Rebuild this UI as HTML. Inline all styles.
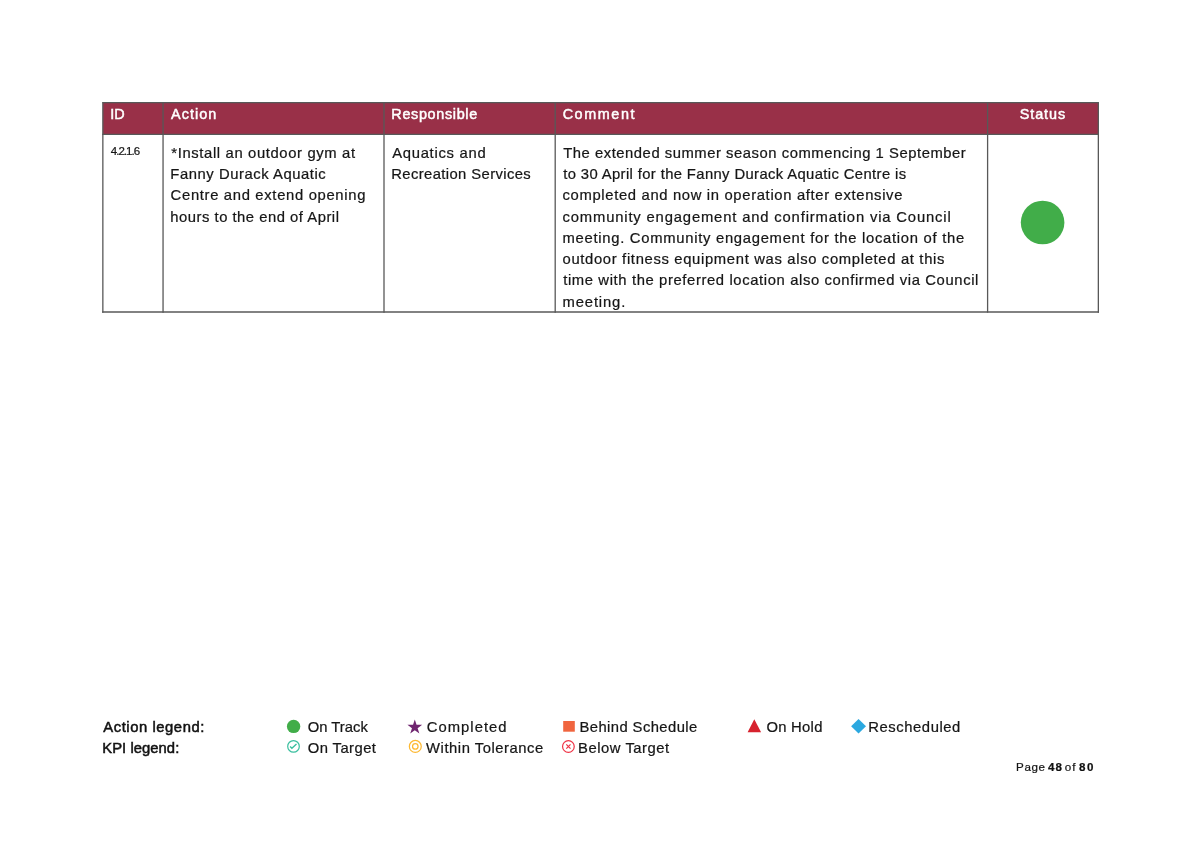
<!DOCTYPE html>
<html lang="en"><head><meta charset="utf-8"><title>Action Report - Page 48</title>
<style>
html,body{margin:0;padding:0;background:#fff;}
body{width:1194px;height:844px;position:relative;overflow:hidden;font-family:"Liberation Sans",sans-serif;}
.t{position:absolute;white-space:pre;display:block;}
svg{position:absolute;left:0;top:0;}
#txt{position:absolute;left:0;top:0;width:1194px;height:844px;will-change:transform;}
</style></head><body>
<svg width="1194" height="844" viewBox="0 0 1194 844">
<!-- table header fill -->
<rect x="102.85" y="102.85" width="995.45" height="31.6" fill="#993048"/>
<!-- grid lines -->
<g stroke="#585858" stroke-width="1.3" fill="none" stroke-linecap="square">
<line x1="102.85" y1="102.65" x2="1098.3" y2="102.65" stroke-width="1.15"/>
<line x1="102.85" y1="312" x2="1098.3" y2="312" stroke-width="1.4"/>
<line x1="102.85" y1="102.85" x2="102.85" y2="312"/>
<line x1="1098.35" y1="102.85" x2="1098.35" y2="312"/>
<line x1="102.85" y1="134.45" x2="1098.3" y2="134.45"/>
<line x1="163.05" y1="102.85" x2="163.05" y2="312"/>
<line x1="384" y1="102.85" x2="384" y2="312"/>
<line x1="555.2" y1="102.85" x2="555.2" y2="312"/>
<line x1="987.6" y1="102.85" x2="987.6" y2="312"/>
</g>
<!-- status circle -->
<circle cx="1042.6" cy="222.5" r="21.8" fill="#41ad49"/>
<!-- legend icons -->
<circle cx="293.6" cy="726.4" r="6.7" fill="#41ad49"/>
<polygon fill="#6f256f" points="414.80,719.50 416.54,724.85 422.17,724.86 417.62,728.16 419.36,733.52 414.80,730.21 410.24,733.52 411.98,728.16 407.43,724.86 413.06,724.85"/>
<rect x="563.2" y="721" width="11.6" height="10.7" fill="#f0653f"/>
<polygon fill="#d7222e" points="754.3,719.3 761.1,732.2 747.6,732.2"/>
<polygon fill="#2ba8e0" points="858.55,719 866,726.25 858.55,733.5 851.1,726.25"/>
<!-- KPI icons -->
<g fill="none" stroke="#3bbf9f" stroke-width="1.2">
<circle cx="293.5" cy="746.4" r="5.8"/>
<polyline stroke-width="1.4" points="290.1,746.4 291.9,748.2 296.5,744"/>
</g>
<g fill="none" stroke="#fdb933" stroke-width="1.25">
<circle cx="415.3" cy="746.4" r="5.95"/>
<circle cx="415.3" cy="746.4" r="2.75"/>
</g>
<g fill="none" stroke="#ef3346" stroke-width="1.2">
<circle cx="568.4" cy="746.45" r="5.85"/>
<path d="M566.3,744.35 L570.5,748.55 M570.5,744.35 L566.3,748.55"/>
</g>
</svg>

<div id="txt">
<span class="t" style="left:110.14px;top:106.00px;font-size:14.4px;line-height:17px;font-weight:400;color:#fff;letter-spacing:0.222px;-webkit-text-stroke:0.48px #fff">ID</span>
<span class="t" style="left:171.04px;top:106.00px;font-size:14.4px;line-height:17px;font-weight:400;color:#fff;letter-spacing:1.065px;-webkit-text-stroke:0.48px #fff">Action</span>
<span class="t" style="left:391.34px;top:106.00px;font-size:14.4px;line-height:17px;font-weight:400;color:#fff;letter-spacing:0.666px;-webkit-text-stroke:0.48px #fff">Responsible</span>
<span class="t" style="left:562.64px;top:106.00px;font-size:14.4px;line-height:17px;font-weight:400;color:#fff;letter-spacing:1.590px;-webkit-text-stroke:0.48px #fff">Comment</span>
<span class="t" style="left:1019.74px;top:106.00px;font-size:14.4px;line-height:17px;font-weight:400;color:#fff;letter-spacing:0.921px;-webkit-text-stroke:0.48px #fff">Status</span>
<span class="t" style="left:110.81px;top:144.00px;font-size:11.5px;line-height:14px;font-weight:400;color:#161616;letter-spacing:-0.982px;-webkit-text-stroke:0.22px #161616">4.2.1.6</span>
<span class="t" style="left:171.31px;top:144.00px;font-size:14.8px;line-height:18px;font-weight:400;color:#161616;letter-spacing:0.636px;-webkit-text-stroke:0.22px #161616">*Install an outdoor gym at</span>
<span class="t" style="left:170.31px;top:165.00px;font-size:14.8px;line-height:18px;font-weight:400;color:#161616;letter-spacing:0.562px;-webkit-text-stroke:0.22px #161616">Fanny Durack Aquatic</span>
<span class="t" style="left:170.61px;top:186.00px;font-size:14.8px;line-height:18px;font-weight:400;color:#161616;letter-spacing:0.676px;-webkit-text-stroke:0.22px #161616">Centre and extend opening</span>
<span class="t" style="left:170.31px;top:208.00px;font-size:14.8px;line-height:18px;font-weight:400;color:#161616;letter-spacing:0.514px;-webkit-text-stroke:0.22px #161616">hours to the end of April</span>
<span class="t" style="left:392.21px;top:144.00px;font-size:14.8px;line-height:18px;font-weight:400;color:#161616;letter-spacing:0.714px;-webkit-text-stroke:0.22px #161616">Aquatics and</span>
<span class="t" style="left:391.21px;top:165.00px;font-size:14.8px;line-height:18px;font-weight:400;color:#161616;letter-spacing:0.398px;-webkit-text-stroke:0.22px #161616">Recreation Services</span>
<span class="t" style="left:563.21px;top:144.00px;font-size:14.8px;line-height:18px;font-weight:400;color:#161616;letter-spacing:0.538px;-webkit-text-stroke:0.22px #161616">The extended summer season commencing 1 September</span>
<span class="t" style="left:563.21px;top:165.00px;font-size:14.8px;line-height:18px;font-weight:400;color:#161616;letter-spacing:0.384px;-webkit-text-stroke:0.22px #161616">to 30 April for the Fanny Durack Aquatic Centre is</span>
<span class="t" style="left:562.51px;top:186.00px;font-size:14.8px;line-height:18px;font-weight:400;color:#161616;letter-spacing:0.662px;-webkit-text-stroke:0.22px #161616">completed and now in operation after extensive</span>
<span class="t" style="left:562.51px;top:208.00px;font-size:14.8px;line-height:18px;font-weight:400;color:#161616;letter-spacing:0.839px;-webkit-text-stroke:0.22px #161616">community engagement and confirmation via Council</span>
<span class="t" style="left:562.51px;top:229.00px;font-size:14.8px;line-height:18px;font-weight:400;color:#161616;letter-spacing:0.718px;-webkit-text-stroke:0.22px #161616">meeting. Community engagement for the location of the</span>
<span class="t" style="left:562.51px;top:250.00px;font-size:14.8px;line-height:18px;font-weight:400;color:#161616;letter-spacing:0.666px;-webkit-text-stroke:0.22px #161616">outdoor fitness equipment was also completed at this</span>
<span class="t" style="left:563.21px;top:271.00px;font-size:14.8px;line-height:18px;font-weight:400;color:#161616;letter-spacing:0.621px;-webkit-text-stroke:0.22px #161616">time with the preferred location also confirmed via Council</span>
<span class="t" style="left:562.51px;top:293.00px;font-size:14.8px;line-height:18px;font-weight:400;color:#161616;letter-spacing:0.866px;-webkit-text-stroke:0.22px #161616">meeting.</span>
<span class="t" style="left:103.25px;top:718.00px;font-size:14.8px;line-height:18px;font-weight:400;color:#111;letter-spacing:0.564px;-webkit-text-stroke:0.50px #111">Action legend:</span>
<span class="t" style="left:102.25px;top:739.00px;font-size:14.8px;line-height:18px;font-weight:400;color:#111;letter-spacing:0.051px;-webkit-text-stroke:0.50px #111">KPI legend:</span>
<span class="t" style="left:307.71px;top:718.00px;font-size:14.8px;line-height:18px;font-weight:400;color:#161616;letter-spacing:0.015px;-webkit-text-stroke:0.22px #161616">On Track</span>
<span class="t" style="left:307.71px;top:739.00px;font-size:14.8px;line-height:18px;font-weight:400;color:#161616;letter-spacing:0.440px;-webkit-text-stroke:0.22px #161616">On Target</span>
<span class="t" style="left:426.81px;top:718.00px;font-size:14.8px;line-height:18px;font-weight:400;color:#161616;letter-spacing:1.023px;-webkit-text-stroke:0.22px #161616">Completed</span>
<span class="t" style="left:426.11px;top:739.00px;font-size:14.8px;line-height:18px;font-weight:400;color:#161616;letter-spacing:0.537px;-webkit-text-stroke:0.22px #161616">Within Tolerance</span>
<span class="t" style="left:579.51px;top:718.00px;font-size:14.8px;line-height:18px;font-weight:400;color:#161616;letter-spacing:0.419px;-webkit-text-stroke:0.22px #161616">Behind Schedule</span>
<span class="t" style="left:578.11px;top:739.00px;font-size:14.8px;line-height:18px;font-weight:400;color:#161616;letter-spacing:0.523px;-webkit-text-stroke:0.22px #161616">Below Target</span>
<span class="t" style="left:766.41px;top:718.00px;font-size:14.8px;line-height:18px;font-weight:400;color:#161616;letter-spacing:0.278px;-webkit-text-stroke:0.22px #161616">On Hold</span>
<span class="t" style="left:868.31px;top:718.00px;font-size:14.8px;line-height:18px;font-weight:400;color:#161616;letter-spacing:0.562px;-webkit-text-stroke:0.22px #161616">Rescheduled</span>
<span class="t" style="left:1016.11px;top:760.00px;font-size:11.6px;line-height:14px;font-weight:400;color:#161616;letter-spacing:0.569px;-webkit-text-stroke:0.22px #161616">Page</span>
<span class="t" style="left:1048.11px;top:760.00px;font-size:11.6px;line-height:14px;font-weight:700;color:#111;letter-spacing:0.903px;-webkit-text-stroke:0.22px #111">48</span>
<span class="t" style="left:1064.71px;top:760.00px;font-size:11.6px;line-height:14px;font-weight:400;color:#161616;letter-spacing:1.219px;-webkit-text-stroke:0.22px #161616">of</span>
<span class="t" style="left:1079.01px;top:760.00px;font-size:11.6px;line-height:14px;font-weight:700;color:#111;letter-spacing:1.532px;-webkit-text-stroke:0.22px #111">80</span>
</div>
</body></html>
